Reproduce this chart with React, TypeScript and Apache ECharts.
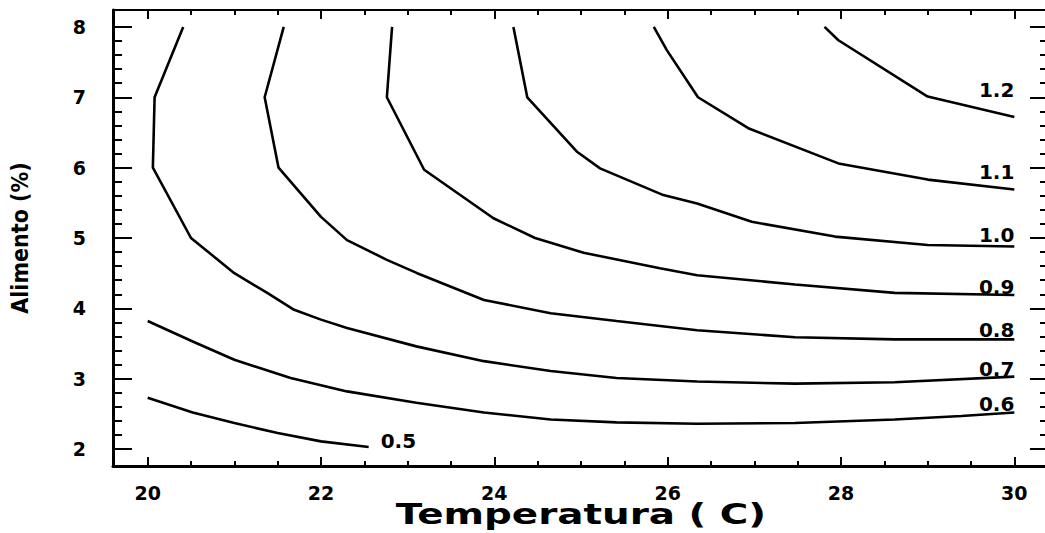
import React, { useEffect, useRef } from "react";
import * as echarts from "echarts";

// Contour levels and their traced points [Temperatura, Alimento]
const levels = ["0.5", "0.6", "0.7", "0.8", "0.9", "1.0", "1.1", "1.2"];

const c05 = [[20, 2.73], [20.52, 2.52], [21.0, 2.37], [21.5, 2.23], [22.0, 2.11], [22.55, 2.03]];
const c06 = [[20, 3.82], [20.52, 3.53], [21, 3.27], [21.65, 3.01], [22.3, 2.82], [23.1, 2.66], [23.88, 2.52], [24.65, 2.42], [25.41, 2.38], [26.34, 2.36], [27.47, 2.37], [28.62, 2.42], [29.39, 2.47], [30, 2.52]];
const c07 = [[20.41, 8], [20.08, 7], [20.06, 6], [20.5, 5], [21, 4.5], [21.38, 4.22], [21.69, 3.98], [22, 3.84], [22.3, 3.72], [23.1, 3.46], [23.88, 3.25], [24.65, 3.11], [25.41, 3.01], [26.34, 2.96], [27.47, 2.93], [28.62, 2.95], [30, 3.03]];
const c08 = [[21.57, 8], [21.35, 7], [21.51, 6], [22, 5.3], [22.3, 4.97], [22.76, 4.69], [23.11, 4.5], [23.88, 4.12], [24.65, 3.93], [25.41, 3.82], [26.34, 3.69], [27.47, 3.59], [28.62, 3.56], [30, 3.56]];
const c09 = [[22.82, 8], [22.76, 7], [23.19, 5.97], [23.99, 5.28], [24.47, 5.0], [25.03, 4.79], [25.91, 4.57], [26.34, 4.47], [27.47, 4.34], [28.62, 4.22], [30, 4.19]];
const c10 = [[24.22, 8], [24.38, 7], [24.95, 6.23], [25.22, 5.99], [25.95, 5.61], [26.34, 5.49], [26.97, 5.23], [27.93, 5.02], [29, 4.9], [30, 4.88]];
const c11 = [[25.84, 8], [25.99, 7.67], [26.35, 7.0], [26.93, 6.56], [27.97, 6.06], [29, 5.83], [30, 5.69]];
const c12 = [[27.81, 8], [27.97, 7.81], [29, 7.01], [30, 6.72]];

const contours = [c05, c06, c07, c08, c09, c10, c11, c12];

const xMajorTicks = [20, 22, 24, 26, 28, 30];
const xMinorTicks = [20.5, 21, 21.5, 22.5, 23, 23.5, 24.5, 25, 25.5, 26.5, 27, 27.5, 28.5, 29, 29.5];
const yMajorTicks = [2, 3, 4, 5, 6, 7, 8];
const yMinorTicks = [2.2, 2.4, 2.6, 2.8, 3.2, 3.4, 3.6, 3.8, 4.2, 4.4, 4.6, 4.8, 5.2, 5.4, 5.6, 5.8, 6.2, 6.4, 6.6, 6.8, 7.2, 7.4, 7.6, 7.8];

const xTitle = "Temperatura ( C)";
const yTitle = "Alimento (%)";

const X_MIN = 19.6, X_MAX = 30.4, Y_MIN = 1.76, Y_MAX = 8.24;

// label placement (style only)
const labelStyle: Record<string, any> = {
  "0.5": { position: "right", offset: [7, -6], align: "left" },
  "0.6": { position: "top", offset: [0, 6], align: "right" },
  "0.7": { position: "top", offset: [0, 7], align: "right" },
  "0.8": { position: "top", offset: [0, 6], align: "right" },
  "0.9": { position: "top", offset: [0, 7], align: "right" },
  "1.0": { position: "top", offset: [0, 4], align: "right" },
  "1.1": { position: "top", offset: [0, -2], align: "right" },
  "1.2": { position: "top", offset: [0, -12], align: "right" },
};

const FONT = "'DejaVu Sans', sans-serif";

export default function App() {
  const ref = useRef<HTMLDivElement>(null);
  useEffect(() => {
    if (!ref.current) return;
    const chart = echarts.init(ref.current, undefined, { renderer: "svg" });

    const hiddenX = (pos: string, ticks: number[], len: number, lineW: number, showLine: boolean) => ({
      type: "value", position: pos, min: X_MIN, max: X_MAX,
      axisLine: { show: showLine, onZero: false, lineStyle: { color: "#000", width: lineW } },
      axisTick: { show: true, inside: true, length: len, customValues: ticks, lineStyle: { color: "#000", width: 2 } },
      axisLabel: { show: false }, splitLine: { show: false },
    });
    const hiddenY = (pos: string, ticks: number[], len: number, lineW: number, showLine: boolean) => ({
      type: "value", position: pos, min: Y_MIN, max: Y_MAX,
      axisLine: { show: showLine, onZero: false, lineStyle: { color: "#000", width: lineW } },
      axisTick: { show: true, inside: true, length: len, customValues: ticks, lineStyle: { color: "#000", width: 2 } },
      axisLabel: { show: false }, splitLine: { show: false },
    });

    const series = contours.map((pts, i) => {
      const lvl = levels[i];
      const ls = labelStyle[lvl];
      const data = pts.map((p, j) => {
        if (j === pts.length - 1) {
          return {
            value: p,
            label: {
              show: true, formatter: lvl, position: ls.position, offset: ls.offset, align: ls.align,
              color: "#000", fontFamily: FONT, fontWeight: "bold", fontSize: 20,
            },
          };
        }
        return { value: p };
      });
      return {
        type: "line", name: lvl, xAxisIndex: 0, yAxisIndex: 0, data,
        showSymbol: true, symbol: "circle", symbolSize: 0, smooth: false,
        itemStyle: { color: "#000" },
        lineStyle: { color: "#000", width: 2.6 },
        label: { show: false },
        z: 3,
      };
    });

    chart.setOption({
      animation: false,
      backgroundColor: "#fff",
      grid: { left: 112, right: 1, top: 10, bottom: 67, containLabel: false },
      graphic: [
        {
          type: "text", x: 581, y: 514, scaleX: 1.34, z: 10,
          style: {
            text: xTitle, fill: "#000", fontFamily: FONT, fontSize: 29, fontWeight: "bold",
            align: "center", verticalAlign: "middle",
          },
        },
      ],
      xAxis: [
        {
          type: "value", position: "bottom", min: X_MIN, max: X_MAX,
          axisLine: { show: true, onZero: false, lineStyle: { color: "#000", width: 3 } },
          axisTick: { show: true, inside: true, length: 9, customValues: xMajorTicks, lineStyle: { color: "#000", width: 2 } },
          axisLabel: { show: true, customValues: xMajorTicks, margin: 17, color: "#000", fontFamily: FONT, fontWeight: "bold", fontSize: 19 },
          splitLine: { show: false },
        },
        hiddenX("bottom", xMinorTicks, 5, 3, false),
        hiddenX("top", xMajorTicks, 9, 2, true),
        hiddenX("top", xMinorTicks, 5, 2, false),
      ],
      yAxis: [
        {
          type: "value", position: "left", min: Y_MIN, max: Y_MAX,
          name: yTitle, nameLocation: "middle", nameGap: 82, nameRotate: 90,
          nameTextStyle: { color: "#000", fontFamily: "'Liberation Sans Narrow', 'DejaVu Sans Condensed', sans-serif", fontSize: 23, fontWeight: "bold" },
          axisLine: { show: true, onZero: false, lineStyle: { color: "#000", width: 3 } },
          axisTick: { show: true, inside: true, length: 19, customValues: yMajorTicks, lineStyle: { color: "#000", width: 2 } },
          axisLabel: { show: true, customValues: yMajorTicks, margin: 27, color: "#000", fontFamily: FONT, fontWeight: "bold", fontSize: 19 },
          splitLine: { show: false },
        },
        hiddenY("left", yMinorTicks, 9, 3, false),
        hiddenY("right", yMajorTicks, 19, 2, true),
        hiddenY("right", yMinorTicks, 9, 2, false),
      ],
      series,
    });
    return () => chart.dispose();
  }, []);
  return (
    <div
      ref={ref}
      style={{ position: "fixed", left: 0, top: 0, width: 1050, height: 533, background: "#fff" }}
    />
  );
}
